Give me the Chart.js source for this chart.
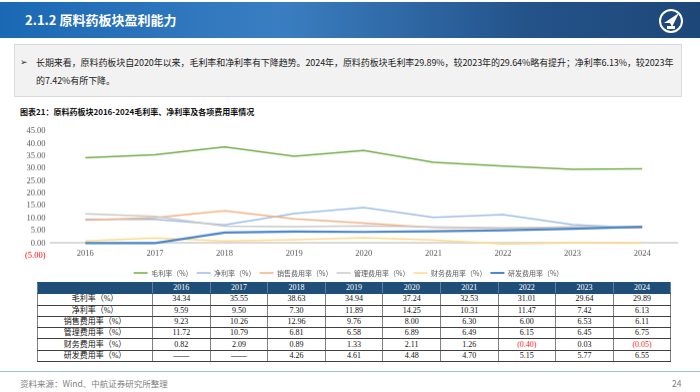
<!DOCTYPE html>
<html>
<head>
<meta charset="utf-8">
<script src="https://cdn.jsdelivr.net/npm/chart.js@4.4.1/dist/chart.umd.min.js"></script>
<style>
  body { margin:0; width:700px; height:392px; background:#fff; position:relative; overflow:hidden;
         font-family:"Noto Sans CJK SC","Noto Sans",sans-serif; }
  .hdr { position:absolute; left:0; top:2px; width:700px; height:36px;
         background:linear-gradient(to right,#1a68b4 0%,#3a7ec1 40%,#24538a 75%,#1d4778 100%); }
  .hdr .t { position:absolute; left:25px; top:8px; color:#fff; font-weight:bold; font-size:13px; line-height:20px; }
  .hdr svg { position:absolute; left:659px; top:6px; }
  .box { position:absolute; left:14px; top:44px; width:668px; height:53px; background:#f2f2f2;
         border:1px solid #d9d9d9; box-sizing:border-box; }
  .box .b { position:absolute; left:5px; top:10px; font-size:9px; color:#333; }
  .box .p { position:absolute; left:21px; top:9px; width:646px; font-size:9px; line-height:18px; color:#222; letter-spacing:-0.08px; }
  .ftitle { position:absolute; left:20px; top:106px; font-size:8px; font-weight:bold; color:#111; }
  #wrap { position:absolute; left:0; top:121.2px; width:700px; height:164.5px; }
  table { position:absolute; left:37px; top:282px; border-collapse:collapse; table-layout:fixed; z-index:2; background:#fff; }
  td { height:10.3px; padding:0; font-size:8px; line-height:10px; text-align:center;
       font-family:"Liberation Serif","Noto Sans CJK SC",serif; color:#111;
       border:1px solid #404040; border-left:1.5px solid #808080; border-right:1.5px solid #808080; }
  tr.h td { background:#1f4e79; color:#fff; border-color:#1f4e79 #5d7fa3; }
  td.neg { color:#ff1a1a; }
  .fline { position:absolute; left:0; top:371px; width:700px; height:1px; background:#9dc3e6; }
  .src { position:absolute; left:20px; top:377px; font-size:8.5px; color:#7f7f7f; }
  .pg { position:absolute; left:672px; top:377px; font-size:8.5px; color:#7f7f7f; }
</style>
</head>
<body>
<div class="hdr">
  <div class="t">2.1.2 原料药板块盈利能力</div>
  <svg width="24" height="26" viewBox="0 0 24 26">
    <circle cx="12" cy="13" r="11" fill="none" stroke="#fff" stroke-width="2"/>
    <path d="M5 15 L20 5 L13 19 L11 15 Z" fill="#fff"/>
    <rect x="8" y="18" width="8" height="3" fill="#fff"/>
  </svg>
</div>
<div class="box">
  <div class="b">➢</div>
  <div class="p">长期来看，原料药板块自2020年以来，毛利率和净利率有下降趋势。2024年，原料药板块毛利率29.89%，较2023年的29.64%略有提升；净利率6.13%，较2023年的7.42%有所下降。</div>
</div>
<div class="ftitle">图表21：原料药板块2016-2024毛利率、净利率及各项费用率情况</div>
<div id="wrap"><canvas id="myChart"></canvas></div>
<table id="tbl"></table>
<div class="fline"></div>
<div class="src">资料来源：Wind、中航证券研究所整理</div>
<div class="pg">24</div>
<script>
const years = ['2016','2017','2018','2019','2020','2021','2022','2023','2024'];
const seriesNames = ['毛利率（%）','净利率（%）','销售费用率（%）','管理费用率（%）','财务费用率（%）','研发费用率（%）'];
const gross = [34.34,35.55,38.63,34.94,37.24,32.53,31.01,29.64,29.89];
const net = [9.59,9.50,7.30,11.89,14.25,10.31,11.47,7.42,6.13];
const sales = [9.23,10.26,12.96,9.76,8.00,6.30,6.00,6.53,6.11];
const admin = [11.72,10.79,6.81,6.58,6.89,6.49,6.15,6.45,6.75];
const fin = [0.82,2.09,0.89,1.33,2.11,1.26,-0.40,0.03,-0.05];
const rd = [null,null,4.26,4.61,4.48,4.70,5.15,5.77,6.55];
const colors = ['#70ad47','#9dbde6','#f4b183','#c9c9c9','#ffd98a','#4a86c8'];

// table
function fmt(v){ if(v===null) return '——'; return v<0 ? '('+Math.abs(v).toFixed(2)+')' : v.toFixed(2); }
const tbl = document.getElementById('tbl');
let html = '<colgroup><col style="width:115px">' + years.map(()=>'<col style="width:57.6px">').join('') + '</colgroup>';
html += '<tr class="h"><td></td>' + years.map(y=>'<td>'+y+'</td>').join('') + '</tr>';
[gross,net,sales,admin,fin,rd].forEach((arr,i)=>{
  html += '<tr><td>'+seriesNames[i]+'</td>' + arr.map(v=>'<td'+(v!==null&&v<0?' class="neg"':'')+'>'+fmt(v)+'</td>').join('') + '</tr>';
});
tbl.innerHTML = html;

// chart (blank R&D values plotted as zero, like the original)
const rdLine = rd.map(v => v===null ? 0 : v);
const all = [gross,net,sales,admin,fin,rdLine];
const ctx = document.getElementById('myChart').getContext('2d');
const myChart = new Chart(ctx, {
  type: 'line',
  data: {
    labels: years,
    datasets: all.map((d,i)=>({
      label: seriesNames[i],
      data: d,
      borderColor: colors[i],
      backgroundColor: colors[i],
      borderWidth: i===5 ? 2.2 : 1.5,
      pointRadius: 0,
      tension: 0,
      order: 6 - i
    }))
  },
  options: {
    responsive: true,
    maintainAspectRatio: false,
    animation: false,
    layout: { padding: { left: 20, right: 23, top: 0, bottom: 0 } },
    plugins: {
      tooltip: { enabled: false },
      legend: {
        position: 'bottom',
        title: { display: true, text: '', font: { size: 1 }, padding: { top: 0, bottom: 8.6 } },
        labels: {
          sort: (a,b) => a.datasetIndex - b.datasetIndex,
          boxWidth: 14, boxHeight: 0, padding: 4,
          color: '#595959',
          font: { family: '"Noto Sans CJK SC"', size: 7 }
        }
      }
    },
    scales: {
      x: {
        position: { y: 0 },
        offset: true,
        grid: { display: false, drawTicks: false },
        border: { display: true, color: '#d9d9d9', width: 2 },
        ticks: { color: '#595959', padding: 5, font: { family: '"Liberation Serif"', size: 8.5 } }
      },
      y: {
        min: -5, max: 45,
        grid: { display: false, drawTicks: false },
        border: { display: false },
        ticks: {
          stepSize: 5, padding: 5, autoSkip: false,
          color: c => c.tick.value < 0 ? '#ff0000' : '#595959',
          font: { family: '"Liberation Serif"', size: 8.5 },
          callback: v => v < 0 ? '(' + Math.abs(v).toFixed(2) + ')' : v.toFixed(2)
        }
      }
    }
  }
});
</script>
</body>
</html>
